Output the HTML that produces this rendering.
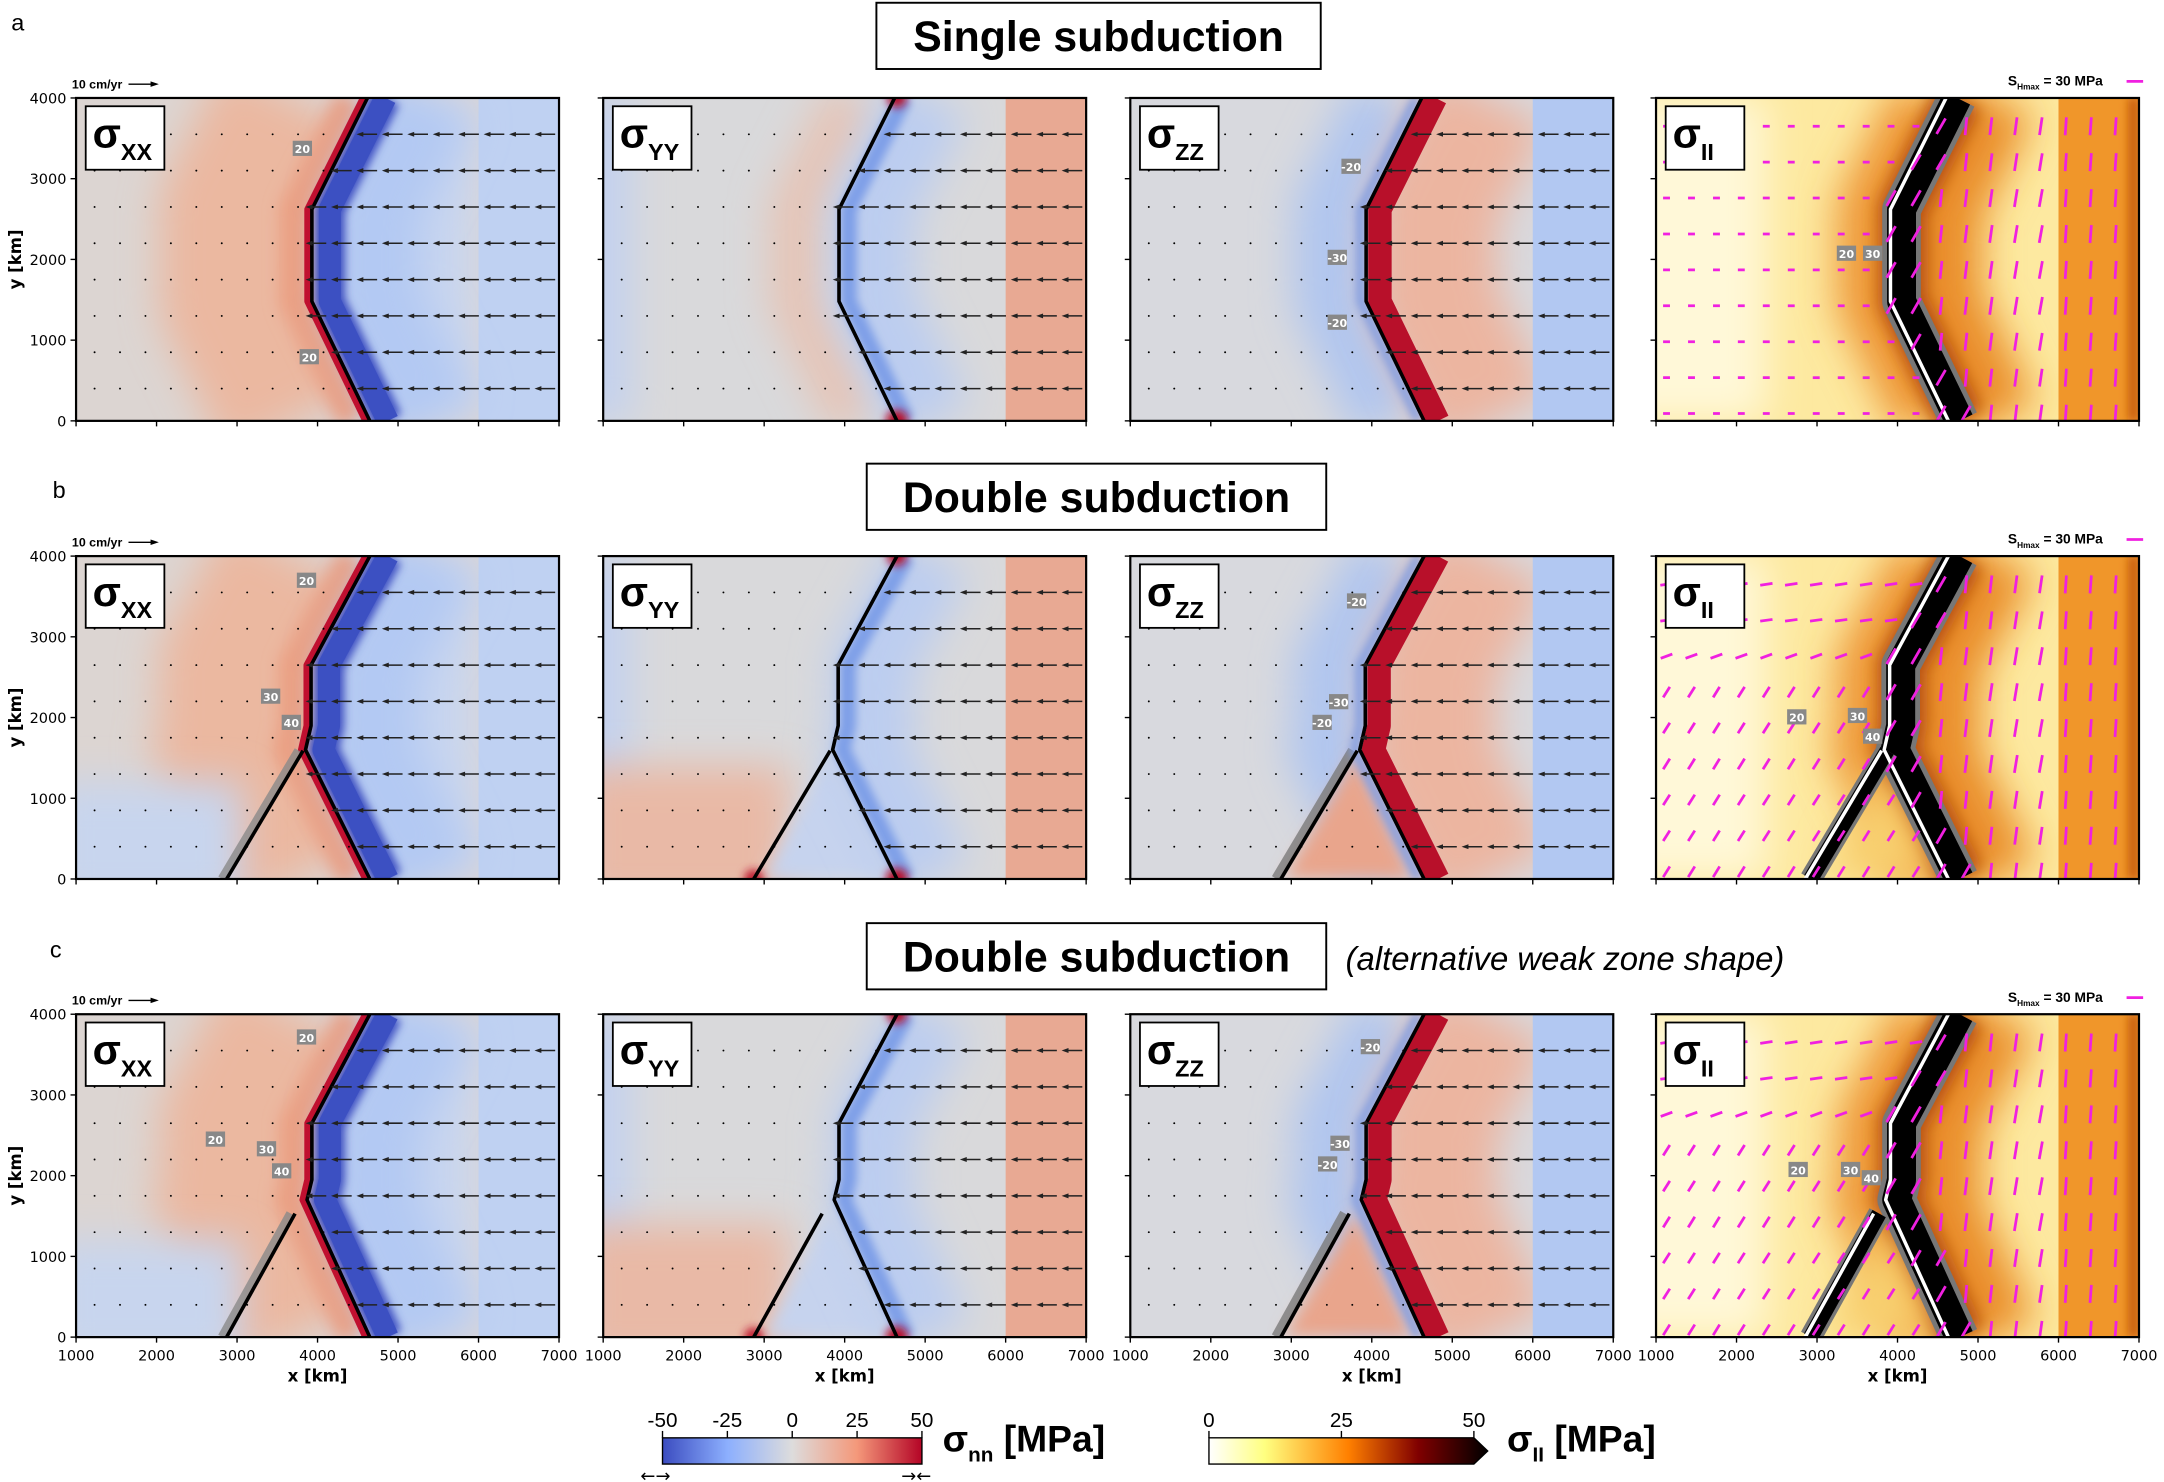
<!DOCTYPE html>
<html><head><meta charset="utf-8">
<style>
html,body{margin:0;padding:0;background:#fff;}
svg{display:block;}
</style></head>
<body>
<svg id="s" xmlns="http://www.w3.org/2000/svg" width="2164" height="1482" viewBox="0 0 1568 1074" font-family="DejaVu Sans, Liberation Sans, sans-serif">
<defs>
<filter id="b6" filterUnits="userSpaceOnUse" x="0" y="0" width="1568" height="1074"><feGaussianBlur stdDeviation="6"/></filter>
<filter id="b12" filterUnits="userSpaceOnUse" x="0" y="0" width="1568" height="1074"><feGaussianBlur stdDeviation="14"/></filter>
<filter id="b3" filterUnits="userSpaceOnUse" x="0" y="0" width="1568" height="1074"><feGaussianBlur stdDeviation="3"/></filter>
<linearGradient id="cnn" x1="0" x2="1"><stop offset="0" stop-color="#3b4cc0"/><stop offset="0.25" stop-color="#8caffe"/><stop offset="0.5" stop-color="#dddcdc"/><stop offset="0.75" stop-color="#f4987a"/><stop offset="1" stop-color="#b40426"/></linearGradient>
<linearGradient id="cii" x1="0" x2="1"><stop offset="0" stop-color="#ffffff"/><stop offset="0.2" stop-color="#ffff80"/><stop offset="0.5" stop-color="#ff8000"/><stop offset="0.75" stop-color="#800000"/><stop offset="1" stop-color="#000000"/></linearGradient>
</defs>
</svg>
<script>
const S=document.getElementById('s');
let out='';
const LS='font-family:"Liberation Sans",sans-serif';
const X0=[55,437,819,1200],Y0=[71,403,735],W=350,H=234;
const fx=(c,x)=>X0[c]+(x-1000)*W/6000, fy=(r,y)=>Y0[r]+H-y*H/4000;
const mains=[
 [[4620,4000],[3930,2620],[3930,1480],[4650,0]],
 [[4650,4000],[3920,2650],[3920,1900],[3850,1600],[4650,0]],
 [[4650,4000],[3930,2650],[3930,1950],[3870,1700],[4650,0]]];
const lefts=[null,[[2870,0],[3820,1590]],[[2870,0],[3720,1530]]];
function pts(c,r,arr,dx){return arr.map(p=>(fx(c,p[0])+(dx||0)).toFixed(1)+','+fy(r,p[1]).toFixed(1)).join(' ');}
function pl(c,r,arr,dx,col,w,extra){return `<polyline points="${pts(c,r,arr,dx)}" fill="none" stroke="${col}" stroke-width="${w}" stroke-linejoin="round" ${extra||''}/>`;}
function slabX(r,y){const a=mains[r];for(let i=0;i<a.length-1;i++){const p=a[i],q=a[i+1];if((y<=p[1]&&y>=q[1])){const t=(y-p[1])/(q[1]-p[1]);return p[0]+t*(q[0]-p[0]);}}return 4000;}

for(let r=0;r<3;r++){for(let c=0;c<4;c++){
 const x0=X0[c],y0=Y0[r];const id=`cp${r}${c}`;
 out+=`<clipPath id="${id}"><rect x="${x0}" y="${y0}" width="${W}" height="${H}"/></clipPath><g clip-path="url(#${id})">`;
 const M=mains[r],L=lefts[r];
 const s6=fx(c,6000);
 if(c==0){
  out+=`<rect x="${x0}" y="${y0}" width="${W}" height="${H}" fill="#dcd5d2"/>`;
  out+=`<rect x="${fx(c,4300)}" y="${y0}" width="${s6-fx(c,4300)}" height="${H}" fill="#c9d6ef" filter="url(#b12)"/>`;
  out+=`<rect x="${s6}" y="${y0}" width="${W-(s6-x0)}" height="${H}" fill="#bfd1f2"/>`;
  out+=pl(c,r,M,-55,'#ebb8a0',110,'filter="url(#b12)"');
  out+=pl(c,r,M,-12,'#eb9e80',22,'filter="url(#b6)"');
  if(r>0){out+=`<rect x="${x0-20}" y="${fy(r,1200)}" width="${fx(c,3400)-x0}" height="${fy(r,0)-fy(r,1200)+20}" fill="#c8d5ee" filter="url(#b12)"/>`;}
  out+=pl(c,r,M,45,'#b3c9f3',70,'filter="url(#b12)"');
  out+=pl(c,r,M,13,'#3c50c2',22,'filter="url(#b3)"');
  out+=pl(c,r,M,13,'#3c50c2',16);
  out+=pl(c,r,M,-3,'#c01030',5);
  if(L){out+=pl(c,r,L,-3,'#8a8a8a',7,'opacity="0.8"');}
 } else if(c==1){
  out+=`<rect x="${x0}" y="${y0}" width="${W}" height="${H}" fill="#d9d9db"/>`;
  out+=`<rect x="${x0-20}" y="${y0}" width="40" height="${H}" fill="#c3d1ef" filter="url(#b12)"/>`;
  if(r>0){out+=`<rect x="${x0-20}" y="${fy(r,1400)}" width="${fx(c,3300)-x0+20}" height="${fy(r,0)-fy(r,1400)+20}" fill="#e9b9a6" filter="url(#b12)"/>`;
   out+=`<polygon points="${pts(c,r,[[3000,0],[3800,1550],[4600,0]])}" fill="#c6d3ee" filter="url(#b6)"/>`;}
  else out+=pl(c,r,M,-30,'#e6c4b6',40,'filter="url(#b12)"');
  out+=pl(c,r,M,25,'#bccdf0',60,'filter="url(#b12)"');
  out+=pl(c,r,M,7,'#7e9fe8',12,'filter="url(#b3)"');
  out+=`<rect x="${s6}" y="${y0}" width="${W-(s6-x0)}" height="${H}" fill="#e8a993"/>`;
  out+=`<circle cx="${fx(c,4650)}" cy="${y0}" r="7" fill="#b8102a" filter="url(#b3)"/><circle cx="${fx(c,4650)}" cy="${y0+H}" r="8" fill="#b8102a" filter="url(#b3)"/>`;
  if(L)out+=`<circle cx="${fx(c,2870)}" cy="${y0+H}" r="7" fill="#c01a30" filter="url(#b3)"/>`;
 } else if(c==2){
  out+=`<rect x="${x0}" y="${y0}" width="${W}" height="${H}" fill="#d8d9de"/>`;
  out+=pl(c,r,M,-25,'#b1c6ef',55,'filter="url(#b12)"');
  out+=pl(c,r,M,50,'#ecb5a0',90,'filter="url(#b12)"');
  if(L){out+=`<polygon points="${pts(c,r,[[2900,0],[3800,1550],[4500,0]])}" fill="#e9a58c" filter="url(#b6)"/>`;out+=pl(c,r,L,-3,'#7a7a7a',8,'opacity="0.8"');}
  out+=`<rect x="${s6}" y="${y0}" width="${W-(s6-x0)}" height="${H}" fill="#b2c8f2"/>`;
  out+=pl(c,r,M,-4,'#7d9be3',6,'filter="url(#b3)"');
  out+=pl(c,r,M,10,'#b8102a',17);
 } else {
  out+=`<rect x="${x0}" y="${y0}" width="${W}" height="${H}" fill="#fde9a0"/>`;
  out+=`<rect x="${x0-30}" y="${y0}" width="110" height="${H}" fill="#fff8d8" filter="url(#b12)"/>`;
  out+=pl(c,r,M,-15,'#ee9838',50,'filter="url(#b12)"');
  out+=pl(c,r,M,35,'#ea8e2c',60,'filter="url(#b12)"');
  out+=pl(c,r,M,8,'#b85010',36,'filter="url(#b6)"');
  if(L)out+=`<polygon points="${pts(c,r,[[3100,0],[3800,1500],[4500,0]])}" fill="#f8d070" filter="url(#b12)"/>`;
  out+=`<rect x="${s6}" y="${y0}" width="${W-(s6-x0)}" height="${H}" fill="#f0962a"/>`;
  out+=`<rect x="${x0+W-8}" y="${y0}" width="8" height="${H}" fill="#c86010" filter="url(#b3)"/>`;
  out+=pl(c,r,M,7,'#777',28);
  out+=pl(c,r,M,7,'#000',21);
  if(L){out+=pl(c,r,L,3,'#777',16);out+=pl(c,r,L,3,'#000',11);out+=pl(c,r,L,-1,'#fff',2.5);}
  out+=pl(c,r,M,-1,'#fff',2.5);
 }
 if(c<3){out+=pl(c,r,M,0,'#000',2.6);if(L)out+=pl(c,r,L,0,'#000',2.6);}
 const rowsY=[3550,3100,2650,2200,1750,1300,850,400];
 if(c<3){
  for(const yy of rowsY){const sx=slabX(r,yy);const py=fy(r,yy);
   for(let xx=1230;xx<7000;xx+=316){const px=fx(c,xx);
    if(xx<sx+50){out+=`<circle cx="${px}" cy="${py}" r="0.7" fill="#000"/>`;}
    else{out+=`<line x1="${px+2}" y1="${py}" x2="${px-10}" y2="${py}" stroke="#222" stroke-width="1.1"/><polygon points="${px-13},${py} ${px-8},${py-1.8} ${px-8},${py+1.8}" fill="#222"/>`;}
   }}
 } else {
  for(let yy=3650;yy>0;yy-=445){const sx=slabX(r,yy);const py=fy(r,yy);
   for(let xx=1130;xx<7000;xx+=310){const px=fx(c,xx);let ang,len=11;
    if(xx<sx-150){ if(r==0){ang=0;len=5;} else {ang=(yy>2900)?-8:(yy>2400?-20:-58);len=9;} }
    else if(xx<sx+350){ang=-60;len=13;}
    else {ang=-86+(xx>6000?0:(xx-sx)/300);len=13;}
    const a=ang*Math.PI/180,dx=Math.cos(a)*len/2,dy=Math.sin(a)*len/2;
    out+=`<line x1="${(px-dx).toFixed(1)}" y1="${(py-dy).toFixed(1)}" x2="${(px+dx).toFixed(1)}" y2="${(py+dy).toFixed(1)}" stroke="#f020e0" stroke-width="2"/>`;
   }}
 }
 out+=`</g>`;
 out+=`<rect x="${x0}" y="${y0}" width="${W}" height="${H}" fill="none" stroke="#000" stroke-width="1.6"/>`;
 for(let k=0;k<=6;k++){const tx=x0+k*W/6;out+=`<line x1="${tx}" y1="${y0+H}" x2="${tx}" y2="${y0+H+4}" stroke="#000" stroke-width="1"/>`;
  if(r==2)out+=`<text x="${tx}" y="${y0+H+17}" font-size="10.5" text-anchor="middle">${1000+k*1000}</text>`;}
 for(let k=0;k<=4;k++){const ty=y0+H-k*H/4;out+=`<line x1="${x0-4}" y1="${ty}" x2="${x0}" y2="${ty}" stroke="#000" stroke-width="1"/>`;
  if(c==0)out+=`<text x="${x0-7}" y="${ty+4}" font-size="10.5" text-anchor="end">${k*1000}</text>`;}
 if(r==2)out+=`<text x="${x0+W/2}" y="${y0+H+32}" font-size="12" font-weight="bold" text-anchor="middle">x  [km]</text>`;
 if(c==0)out+=`<text transform="translate(${x0-40},${y0+H/2}) rotate(-90)" font-size="12" font-weight="bold" text-anchor="middle">y  [km]</text>`;
 const lab=['XX','YY','ZZ','II'][c];
 out+=`<rect x="${x0+7}" y="${y0+6}" width="57" height="46" fill="#fff" stroke="#000" stroke-width="1.3"/>`;
 out+=`<text x="${x0+12}" y="${y0+36}" font-size="30" font-weight="bold" style='${LS}'>σ<tspan font-size="17" dy="9">${lab}</tspan></text>`;
 if(c==0)out+=`<text x="${x0-3}" y="${y0-7}" font-size="9" font-weight="bold" style='${LS}'>10 cm/yr</text><line x1="${x0+38}" y1="${y0-10}" x2="${x0+56}" y2="${y0-10}" stroke="#000" stroke-width="1"/><polygon points="${x0+60},${y0-10} ${x0+54},${y0-12} ${x0+54},${y0-8}"/>`;
 if(c==3)out+=`<text x="${x0+255}" y="${y0-9}" font-size="10" font-weight="bold" style='${LS}'>S<tspan font-size="6" dy="3">Hmax</tspan><tspan dy="-3"> = 30 MPa</tspan></text><line x1="${x0+341}" y1="${y0-12}" x2="${x0+353}" y2="${y0-12}" stroke="#f020e0" stroke-width="2"/>`;
}}
function lbl(x,y,t){return `<rect x="${x-7}" y="${y-6}" width="14" height="11" fill="#888"/><text x="${x}" y="${y+3}" font-size="8" fill="#fff" text-anchor="middle" font-weight="bold">${t}</text>`;}
out+=lbl(219,108,'20')+lbl(224,259,'20')+lbl(979,121,'-20')+lbl(969,187,'-30')+lbl(969,234,'-20')+lbl(1338,184,'20')+lbl(1357,184,'30');
out+=lbl(222,421,'20')+lbl(196,505,'30')+lbl(211,524,'40')+lbl(983,436,'-20')+lbl(970,509,'-30')+lbl(958,524,'-20')+lbl(1302,520,'20')+lbl(1346,519,'30')+lbl(1357,534,'40');
out+=lbl(222,752,'20')+lbl(156,826,'20')+lbl(193,833,'30')+lbl(204,849,'40')+lbl(993,759,'-20')+lbl(971,829,'-30')+lbl(962,844,'-20')+lbl(1303,848,'20')+lbl(1341,848,'30')+lbl(1356,854,'40');
out+=`<text x="8" y="22" font-size="17" style='${LS}'>a</text><text x="38" y="361" font-size="17" style='${LS}'>b</text><text x="36" y="694" font-size="17" style='${LS}'>c</text>`;
function title(x1,x2,y1,y2,t){return `<rect x="${x1}" y="${y1}" width="${x2-x1}" height="${y2-y1}" fill="#fff" stroke="#000" stroke-width="1.4"/><text x="${(x1+x2)/2}" y="${(y1+y2)/2+11}" font-size="31" font-weight="bold" text-anchor="middle" style='${LS}'>${t}</text>`;}
out+=title(635,957,2,50,'Single subduction')+title(628,961,336,384,'Double subduction')+title(628,961,669,717,'Double subduction');
out+=`<text x="975" y="703" font-size="24" font-style="italic" style='${LS}' textLength="318" lengthAdjust="spacingAndGlyphs">(alternative weak zone shape)</text>`;
out+=`<rect x="480" y="1042" width="188" height="19" fill="url(#cnn)" stroke="#000" stroke-width="1"/>`;
[-50,-25,0,25,50].forEach((v,i)=>{const x=480+i*47;out+=`<line x1="${x}" y1="1042" x2="${x}" y2="1037" stroke="#000"/><text x="${x}" y="1034" font-size="15" text-anchor="middle" style='${LS}'>${v}</text>`;});
out+=`<text x="683" y="1052" font-size="27" font-weight="bold" style='${LS}'>σ<tspan font-size="15" dy="7">nn</tspan><tspan dy="-7"> [MPa]</tspan></text>`;
out+=`<text x="464" y="1074" font-size="13">←→</text><text x="653" y="1074" font-size="13">→←</text>`;
out+=`<polygon points="876,1042 1068,1042 1078,1051.5 1068,1061 876,1061" fill="url(#cii)" stroke="#000" stroke-width="1"/>`;
[0,25,50].forEach((v,i)=>{const x=876+i*96;out+=`<line x1="${x}" y1="1042" x2="${x}" y2="1037" stroke="#000"/><text x="${x}" y="1034" font-size="15" text-anchor="middle" style='${LS}'>${v}</text>`;});
out+=`<text x="1092" y="1052" font-size="27" font-weight="bold" style='${LS}'>σ<tspan font-size="15" dy="7">II</tspan><tspan dy="-7"> [MPa]</tspan></text>`;
S.insertAdjacentHTML('beforeend',out);
</script>
</body></html>
